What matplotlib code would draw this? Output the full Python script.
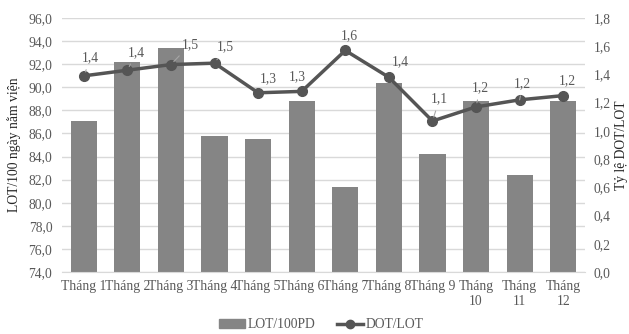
import matplotlib
matplotlib.use("Agg")
from matplotlib import pyplot as plt
from matplotlib.ticker import FuncFormatter, MultipleLocator
from matplotlib.lines import Line2D
from matplotlib.patches import Patch
import numpy as np

plt.rcParams["font.family"] = ["Liberation Serif", "DejaVu Serif"]

months = ["Tháng 1", "Tháng 2", "Tháng 3", "Tháng 4", "Tháng 5", "Tháng 6",
          "Tháng 7", "Tháng 8", "Tháng 9", "Tháng\n10", "Tháng\n11", "Tháng\n12"]
lot_per_100pd = [87.1, 92.2, 93.4, 85.8, 85.5, 88.8, 81.4, 90.4, 84.2, 88.8, 82.4, 88.8]
dot_per_lot = [1.39, 1.43, 1.47, 1.48, 1.27, 1.28, 1.57, 1.38, 1.07, 1.17, 1.22, 1.25]

# data label offsets (dx, dy up, in pixels) and whether a leader line is drawn
label_offsets = [(7, 18), (9, 18), (19, 20), (11, 16), (10, 14), (-4, 15),
                 (4, 15), (12, 16), (7, 22), (4, 19), (3, 16), (4, 15)]
leaders = [True, True, True, True, False, False, False, False, True, True, True, False]

text_col = "#595959"
bar_col = "#858585"
line_col = "#555555"
grid_col = "#d9d9d9"
fs = 9.8
px = 72 / 100  # points per pixel at dpi 100

fig = plt.figure(figsize=(6.29, 3.34), dpi=100)
ax = fig.add_axes([62 / 629, 1 - 272 / 334, (585 - 62) / 629, (272 - 18) / 334])
ax2 = ax.twinx()

x = np.arange(len(months))
ax.bar(x, lot_per_100pd, width=0.6, color=bar_col, zorder=2)
ax.set_xlim(-0.5, len(months) - 0.5)
ax.set_ylim(74, 96)
ax.yaxis.set_major_locator(MultipleLocator(2))
ax.yaxis.set_major_formatter(FuncFormatter(lambda v, p: f"{v:.1f}".replace(".", ",")))
ax.grid(axis="y", color=grid_col, linewidth=1, zorder=0)
ax.set_axisbelow(True)
ax.set_xticks(x)
ax.set_xticklabels(months, fontsize=fs, color=text_col, linespacing=1.15)
ax.tick_params(axis="both", length=0, labelsize=fs, labelcolor=text_col)
ax.tick_params(axis="y", pad=7)
ax.tick_params(axis="x", pad=6)
for s in ["top", "left", "right"]:
    ax.spines[s].set_visible(False)
ax.spines["bottom"].set_color(grid_col)

ax2.plot(x, dot_per_lot, color=line_col, linewidth=2.5, marker="o", markersize=7, zorder=3)
ax2.set_ylim(0, 1.8)
ax2.yaxis.set_major_locator(MultipleLocator(0.2))
ax2.yaxis.set_major_formatter(FuncFormatter(lambda v, p: f"{v:.1f}".replace(".", ",")))
ax2.tick_params(axis="y", length=0, labelsize=fs, labelcolor=text_col, pad=6)
for s in ["top", "left", "right", "bottom"]:
    ax2.spines[s].set_visible(False)

fig.text(14 / 629, 1 - 145 / 334, "LOT/100 ngày nằm viện", rotation=90,
         ha="center", va="center", fontsize=fs, color="#262626")
fig.text(621 / 629, 1 - 145 / 334, "Tỷ lệ DOT/LOT", rotation=90,
         ha="center", va="center", fontsize=fs, color="#262626")

for i, v in enumerate(dot_per_lot):
    dx, dy = label_offsets[i]
    arrow = dict(arrowstyle="-", color="#a6a6a6", lw=0.8, shrinkA=2, shrinkB=3) if leaders[i] else None
    ax2.annotate(f"{v:.1f}".replace(".", ","), (x[i], v), xytext=(dx * px, dy * px),
                 textcoords="offset points", ha="center", va="center",
                 fontsize=fs, color=text_col, arrowprops=arrow)

handles = [Patch(color=bar_col), Line2D([], [], color=line_col, lw=2.5, marker="o", markersize=6)]
fig.legend(handles, ["LOT/100PD", "DOT/LOT"], loc="center", bbox_to_anchor=(321 / 629, 1 - 325 / 334),
           ncol=2, frameon=False, fontsize=fs, labelcolor=text_col,
           handlelength=1.9, handleheight=0.6, handletextpad=0.2, columnspacing=1.6,
           borderpad=0.1)

fig.savefig("out.png", dpi=100)
